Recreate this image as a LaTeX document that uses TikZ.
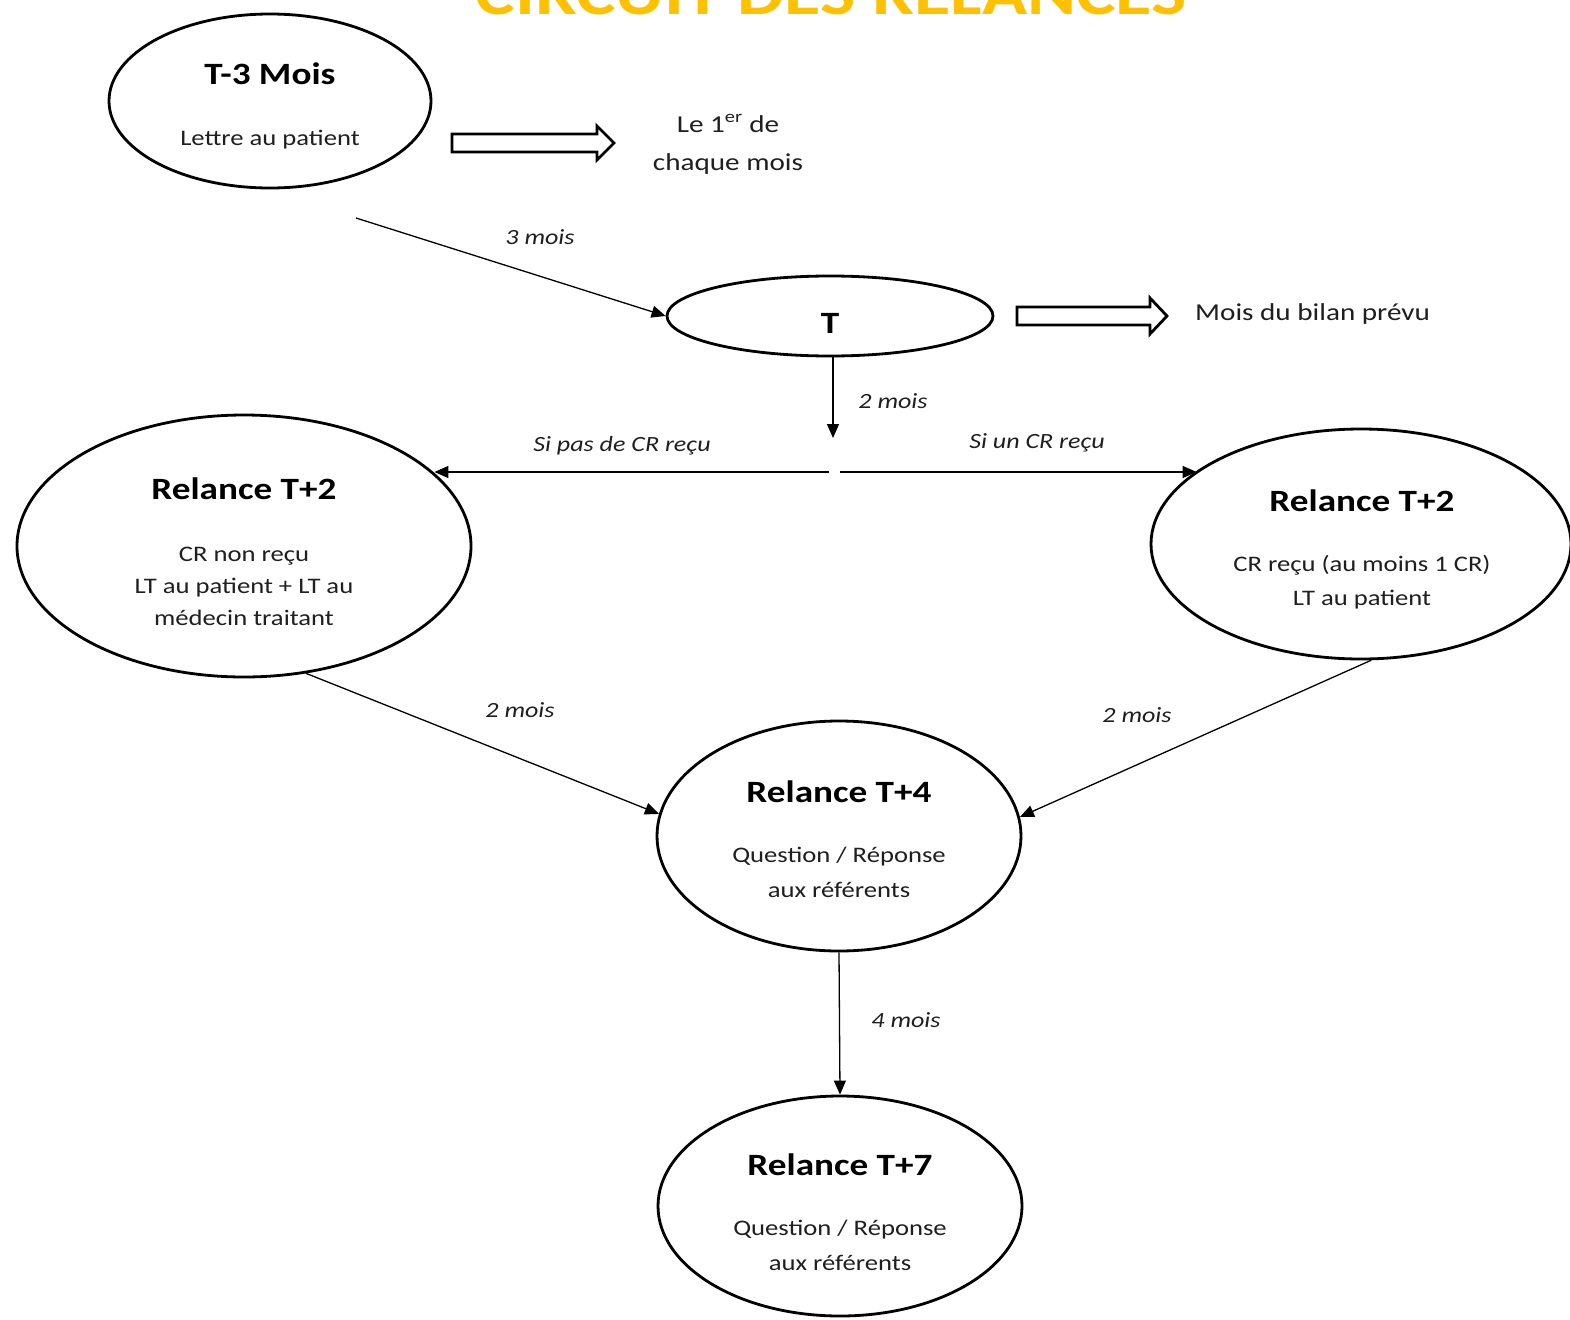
\documentclass[tikz,border=0pt]{standalone}
\usepackage{fontspec}
\setmainfont{Carlito}[FakeStretch=1.2]
\usetikzlibrary{shapes.geometric,arrows.meta}
\definecolor{gold}{HTML}{FFC000}
\definecolor{bodytxt}{HTML}{1F1F1F}
\tikzset{
  oval/.style={draw=black, line width=2.8pt, ellipse, inner sep=0pt},
  head/.style={font=\fontsize{31}{36}\selectfont\bfseries, text=black, anchor=base, inner sep=0pt},
  body/.style={font=\fontsize{22.2}{26}\selectfont, text=bodytxt, anchor=base, inner sep=0pt},
  note/.style={font=\fontsize{24.3}{28}\selectfont, text=bodytxt, anchor=base, inner sep=0pt},
  lab/.style={font=\fontsize{21.7}{26}\selectfont\itshape, text=bodytxt, anchor=base, inner sep=0pt},
  conn/.style={line width=1.3pt, -{Triangle[length=14pt,width=12pt]}},
  hollow/.style={draw=black, line width=2.8pt, line join=miter, fill=white},
}
\begin{document}
\begin{tikzpicture}[x=1pt,y=-1pt]
\clip (0,0) rectangle (1570,1319);
\fill[white] (0,0) rectangle (1570,1319);
% title
\node[anchor=base, inner sep=0pt, text=gold, font=\fontsize{62}{62}\selectfont\bfseries] (title) at (831,15) {CIRCUIT DES RELANCES};
% ellipses
\node[oval, minimum width=322pt, minimum height=174pt] (tm3) at (270,101) {};
\node[oval, minimum width=326pt, minimum height=80pt] (t) at (830,316) {};
\node[oval, minimum width=454pt, minimum height=262pt] (l) at (244,546) {};
\node[oval, minimum width=420pt, minimum height=230pt] (r) at (1361,544) {};
\node[oval, minimum width=364pt, minimum height=230pt] (t4) at (839,836) {};
\node[oval, minimum width=364pt, minimum height=220pt] (t7) at (840,1206) {};
% texts
\node[head] (tm3h) at (270,85) {T-3 Mois};
\node[body] (tm3b) at (270,146) {Lettre au patient};
\node[head] (th) at (830,333) {T};
\node[head] (lh) at (244,499) {Relance T+2};
\node[body] (lb1) at (244,561) {CR non reçu};
\node[body] (lb2) at (244,593) {LT au patient + LT au};
\node[body] (lb3) at (244,625) {médecin traitant};
\node[head] (rh) at (1362,511) {Relance T+2};
\node[body] (rb1) at (1362,571) {CR reçu (au moins 1 CR)};
\node[body] (rb2) at (1362,605) {LT au patient};
\node[head] (t4h) at (839,802) {Relance T+4};
\node[body] (t4b1) at (839,862) {Question / Réponse};
\node[body] (t4b2) at (839,897) {aux référents};
\node[head] (t7h) at (840,1175) {Relance T+7};
\node[body] (t7b1) at (840,1235) {Question / Réponse};
\node[body] (t7b2) at (840,1270) {aux référents};
% side notes
\node[note] (n1a) at (728,132) {Le 1\textsuperscript{er} de};
\node[note] (n1b) at (728,170) {chaque mois};
\node[note, anchor=base west] (n2) at (1195,320) {Mois du bilan prévu};
% hollow arrows
\draw[hollow] (452,134) -- (597,134) -- (597,126) -- (614,143) -- (597,160) -- (597,152) -- (452,152) -- cycle;
\draw[hollow] (1017,307) -- (1150,307) -- (1150,298) -- (1167,316) -- (1150,334) -- (1150,325) -- (1017,325) -- cycle;
% connectors
\coordinate (s3) at (356,218);
\coordinate (tdown) at (833,438);
\coordinate (sl) at (829,472);
\coordinate (sr) at (840,472);
\draw[conn] (s3) -- (t.west);
\draw[conn] (t.south -| tdown) -- (tdown);
\draw[conn] (sl) -- (l.21.4 |- sl);
\draw[conn] (sr) -- (r.156.3 |- sr);
\draw[conn] (l.-64.5) -- (t4.173.6);
\draw[conn] (r.-85.5) -- (t4.6.6);
\draw[conn] (t4.south) -- (t7.north);
% labels
\node[lab] (lab1) at (540,244) {3 mois};
\node[lab] (lab2) at (893,408) {2 mois};
\node[lab] (lab3) at (622,451) {Si pas de CR reçu};
\node[lab] (lab4) at (1037,448) {Si un CR reçu};
\node[lab] (lab5) at (520,717) {2 mois};
\node[lab] (lab6) at (1137,722) {2 mois};
\node[lab] (lab7) at (906,1027) {4 mois};
\end{tikzpicture}
\end{document}
